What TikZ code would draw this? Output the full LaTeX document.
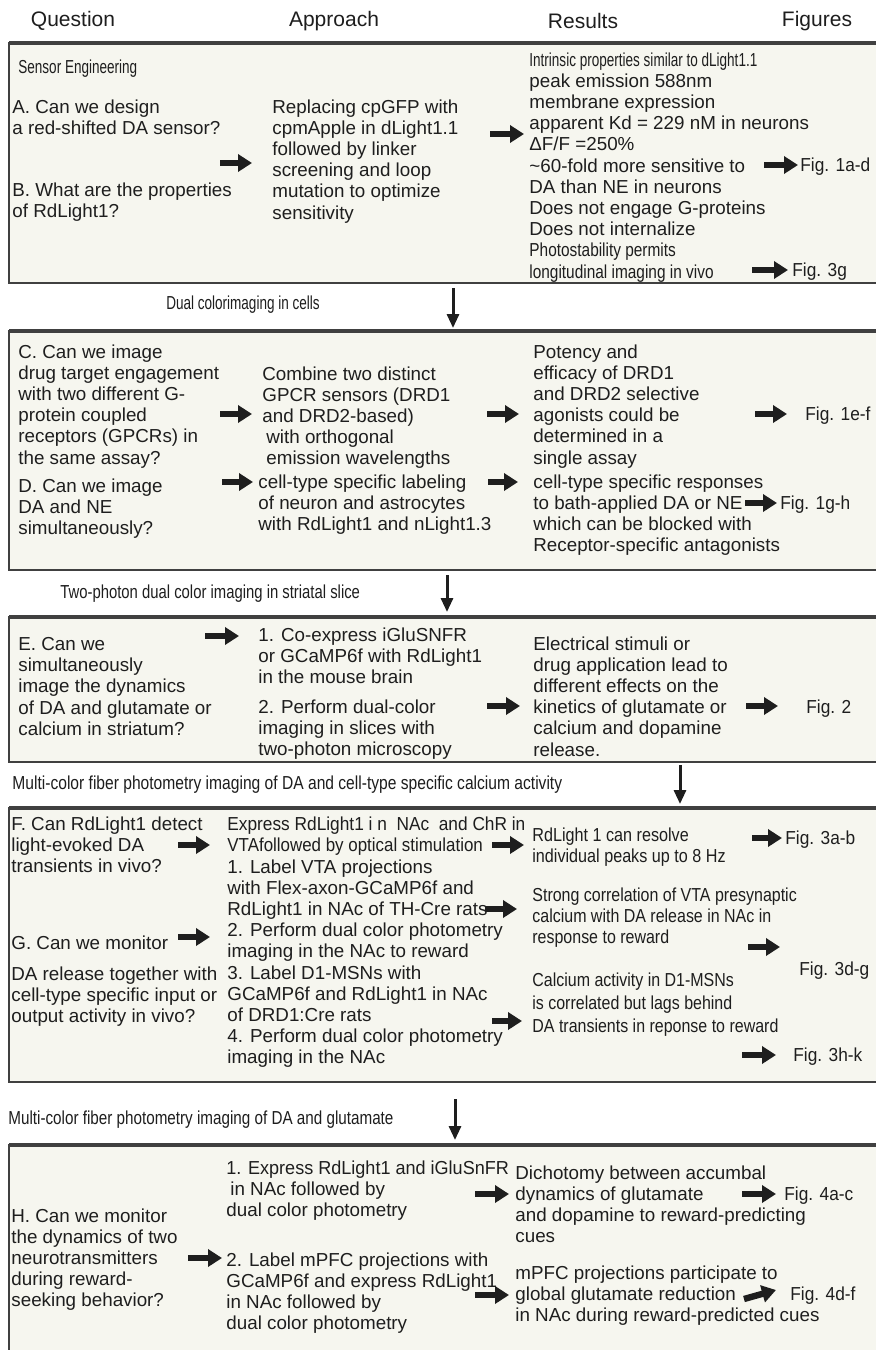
\documentclass[tikz,border=0pt]{standalone}
\usepackage{fontspec}
\setmainfont{Liberation Sans}
\usetikzlibrary{arrows.meta}

\definecolor{panelfill}{HTML}{F6F6EF}
\definecolor{inkgray}{HTML}{1E1E1E}
\newcommand{\narrowtxt}[2][0.75]{\scalebox{#1}[1]{#2}}
\newcommand{\figref}[1]{\narrowtxt[0.92]{Fig. #1}}

\begin{document}
\begin{tikzpicture}[x=0.5pt,y=-0.5pt,
  txt/.style={anchor=north west,align=left,inner sep=0pt,text=inkgray,
    font=\fontsize{9.4}{10.6}\selectfont,execute at begin node={\rule{0pt}{7pt}}},
  head/.style={inner sep=0pt,text=inkgray,font=\fontsize{10.5}{12}\selectfont},
  panel/.style={draw=black!75,line width=0.9pt,fill=panelfill},
  rarr/.style={draw=inkgray,line width=3.2pt,-{Triangle[length=7pt,width=8.5pt]}},
  darr/.style={draw=inkgray,line width=1.5pt,-{Triangle[length=7pt,width=6pt]}}]

  % page, pixel grid 876 x 1350
  \fill[white] (0,0) rectangle (876,1350);
  \path[use as bounding box] (0,0) rectangle (876,1350);
  \clip (0,0) rectangle (876,1350);

  % column heads
  \node[head] (hq) at (73,21) {Question};
  \node[head] (ha) at (334,21) {Approach};
  \node[head] (hr) at (583,21) {Results};
  \node[head] (hf) at (817,21) {Figures};

  % panels
  \draw[panel] (9,43) rectangle (890,283);
  \draw[panel] (9,331) rectangle (890,570);
  \draw[panel] (9,617) rectangle (890,762);
  \draw[panel] (9,808) rectangle (890,1082);
  \draw[panel] (9,1145) rectangle (890,1370);
  \foreach \yy in {43,331,617,808,1145}
    \draw[black!75,line width=1.6pt] (9,\yy) -- (890,\yy);

  %------------------------------------------------ sensor engineering
  \node[txt] (sensor) at (18,59) {\narrowtxt[0.72]{Sensor Engineering}};
  \node[txt] (qA) at (12,99) {A. Can we design\\a red-shifted DA sensor?};
  \node[txt] (qB) at (12,182) {B. What are the properties\\of RdLight1?};
  \node[txt] (apA) at (272,99) {Replacing cpGFP with\\cpmApple in dLight1.1\\followed by linker\\screening and loop\\mutation to optimize\\sensitivity};
  \node[txt] (resA) at (529,52) {\narrowtxt[0.72]{Intrinsic properties similar to dLight1.1}\\peak emission 588nm\\membrane expression\\apparent Kd = 229 nM in neurons\\ΔF/F =250\%\\\textasciitilde 60-fold more sensitive to\\DA than NE in neurons\\Does not engage G-proteins\\Does not internalize\\\narrowtxt[0.82]{Photostability permits}\\\narrowtxt[0.82]{longitudinal imaging in vivo}};
  \node[txt] (f1ad) at (800,157) {\figref{1a-d}};
  \node[txt] (f3g) at (792,262) {\figref{3g}};

  \coordinate (sA1) at (220,163);
  \coordinate (sA2) at (490,134);
  \coordinate (sA3) at (764,165);
  \coordinate (sA4) at (752,270);
  \draw[rarr] (sA1) -- ++(32,0);
  \draw[rarr] (sA2) -- ++(34,0);
  \draw[rarr] (sA3) -- ++(34,0);
  \draw[rarr] (sA4) -- ++(36,0);

  % step down
  \node[head,font=\fontsize{9.4}{10.6}\selectfont] (lbl2) at (243,305) {\narrowtxt[0.72]{Dual colorimaging in cells}};
  \coordinate (d1) at (453,288);
  \draw[darr] (d1) -- ++(0,40);

  %------------------------------------------------ dual colour in cells
  \node[txt] (qC) at (18,344) {C. Can we image\\drug target engagement\\with two different G-\\protein coupled\\receptors (GPCRs) in\\the same assay?};
  \node[txt] (apC) at (262,366) {Combine two distinct\\GPCR sensors (DRD1\\and DRD2-based)\\\hspace{2pt}with orthogonal\\\hspace{2pt}emission wavelengths};
  \node[txt] (resC) at (533,344) {Potency and\\efficacy of DRD1\\and DRD2 selective\\agonists could be\\determined in a\\single assay};
  \node[txt] (f1ef) at (805,406) {\figref{1e-f}};
  \node[txt] (qD) at (18,478) {D. Can we image\\DA and NE\\simultaneously?};
  \node[txt] (apD) at (258,474) {cell-type specific labeling\\of neuron and astrocytes\\with RdLight1 and nLight1.3};
  \node[txt] (resD) at (533,474) {cell-type specific responses\\to bath-applied DA or NE\\which can be blocked with\\Receptor-specific antagonists};
  \node[txt] (f1gh) at (780,495) {\figref{1g-h}};

  \coordinate (sC1) at (220,414);
  \coordinate (sC2) at (487,414);
  \coordinate (sC3) at (755,414);
  \coordinate (sD1) at (222,482);
  \coordinate (sD2) at (488,482);
  \coordinate (sD3) at (745,503);
  \draw[rarr] (sC1) -- ++(32,0);
  \draw[rarr] (sC2) -- ++(32,0);
  \draw[rarr] (sC3) -- ++(32,0);
  \draw[rarr] (sD1) -- ++(31,0);
  \draw[rarr] (sD2) -- ++(30,0);
  \draw[rarr] (sD3) -- ++(32,0);

  % step down
  \node[txt] (lbl3) at (60,584) {\narrowtxt[0.79]{Two-photon dual color imaging in striatal slice}};
  \coordinate (d2) at (447,575);
  \draw[darr] (d2) -- ++(0,37);

  %------------------------------------------------ two-photon slice
  \node[txt] (qE) at (18,637) {E. Can we\\simultaneously\\image the dynamics\\of DA and glutamate or\\calcium in striatum?};
  \node[txt] (apE1) at (258,627) {1. Co-express iGluSNFR\\or GCaMP6f with RdLight1\\in the mouse brain};
  \node[txt] (apE2) at (258,699) {2. Perform dual-color\\imaging in slices with\\two-photon microscopy};
  \node[txt] (resE) at (533,636) {Electrical stimuli or\\drug application lead to\\different effects on the\\kinetics of glutamate or\\calcium and dopamine\\release.};
  \node[txt] (f2) at (806,699) {\figref{2}};

  \coordinate (sE1) at (205,636);
  \coordinate (sE2) at (487,706);
  \coordinate (sE3) at (746,706);
  \draw[rarr] (sE1) -- ++(34,0);
  \draw[rarr] (sE2) -- ++(33,0);
  \draw[rarr] (sE3) -- ++(32,0);

  % step down
  \node[txt] (lbl4) at (12,775) {\narrowtxt[0.83]{Multi-color fiber photometry imaging of DA and cell-type specific calcium activity}};
  \coordinate (d3) at (680,765);
  \draw[darr] (d3) -- ++(0,39);

  %------------------------------------------------ photometry, calcium
  \node[txt] (qF) at (11,816) {F. Can RdLight1 detect\\light-evoked DA\\transients in vivo?};
  \node[txt] (apF) at (227,816) {\narrowtxt[0.92]{Express RdLight1 i n\ \ NAc\ \ and ChR in}\\\narrowtxt[0.9]{VTAfollowed by optical stimulation}};
  \node[txt] (resF) at (532,827) {\narrowtxt[0.86]{RdLight 1 can resolve}\\\narrowtxt[0.86]{individual peaks up to 8 Hz}};
  \node[txt] (f3ab) at (785,830) {\figref{3a-b}};
  \node[txt] (apG) at (227,859) {1. Label VTA projections\\with Flex-axon-GCaMP6f and\\RdLight1 in NAc of TH-Cre rats\\2. Perform dual color photometry\\imaging in the NAc to reward\\3. Label D1-MSNs with\\GCaMP6f and RdLight1 in NAc\\of DRD1:Cre rats\\4. Perform dual color photometry\\imaging in the NAc};
  \node[txt] (qG) at (11,935) {G. Can we monitor\\[5pt]DA release together with\\cell-type specific input or\\output activity in vivo?};
  \node[txt] (resG1) at (532,887) {\narrowtxt[0.85]{Strong correlation of VTA presynaptic}\\\narrowtxt[0.85]{calcium with DA release in NAc in}\\\narrowtxt[0.85]{response to reward}};
  \node[txt] (f3dg) at (799,961) {\figref{3d-g}};
  \node[txt] (resG2) at (532,972) {\narrowtxt[0.85]{Calcium activity in D1-MSNs}\\[1pt]\narrowtxt[0.85]{is correlated but lags behind}\\[1pt]\narrowtxt[0.85]{DA transients in reponse to reward}};
  \node[txt] (f3hk) at (793,1047) {\figref{3h-k}};

  \coordinate (sF1) at (178,845);
  \coordinate (sF2) at (492,845);
  \coordinate (sF3) at (752,838);
  \coordinate (sG1) at (178,937);
  \coordinate (sG2) at (485,909);
  \coordinate (sG3) at (748,947);
  \coordinate (sG4) at (492,1021);
  \coordinate (sG5) at (742,1055);
  \draw[rarr] (sF1) -- ++(32,0);
  \draw[rarr] (sF2) -- ++(32,0);
  \draw[rarr] (sF3) -- ++(30,0);
  \draw[rarr] (sG1) -- ++(32,0);
  \draw[rarr] (sG2) -- ++(32,0);
  \draw[rarr] (sG3) -- ++(32,0);
  \draw[rarr] (sG4) -- ++(30,0);
  \draw[rarr] (sG5) -- ++(34,0);

  % step down
  \node[txt] (lbl5) at (8,1110) {\narrowtxt[0.81]{Multi-color fiber photometry imaging of DA and glutamate}};
  \coordinate (d4) at (455,1099);
  \draw[darr] (d4) -- ++(0,41);

  %------------------------------------------------ photometry, glutamate
  \node[txt] (apH1) at (226,1160) {\narrowtxt[0.96]{1. Express RdLight1 and iGluSnFR}\\\hspace{2pt}in NAc followed by\\dual color photometry};
  \node[txt] (resH1) at (515,1165) {Dichotomy between accumbal\\dynamics of glutamate\\and dopamine to reward-predicting\\cues};
  \node[txt] (f4ac) at (784,1186) {\figref{4a-c}};
  \node[txt] (qH) at (11,1208) {H. Can we monitor\\the dynamics of two\\neurotransmitters\\during reward-\\seeking behavior?};
  \node[txt] (apH2) at (226,1252) {2. Label mPFC projections with\\GCaMP6f and express RdLight1\\in NAc followed by\\dual color photometry};
  \node[txt] (resH2) at (515,1265) {mPFC projections participate to\\global glutamate reduction\\in NAc during reward-predicted cues};
  \node[txt] (f4df) at (790,1286) {\figref{4d-f}};

  \coordinate (sH1) at (475,1194);
  \coordinate (sH2) at (742,1194);
  \coordinate (sH3) at (188,1258);
  \coordinate (sH4) at (475,1295);
  \coordinate (sH5) at (744,1299);
  \draw[rarr] (sH1) -- ++(34,0);
  \draw[rarr] (sH2) -- ++(34,0);
  \draw[rarr] (sH3) -- ++(34,0);
  \draw[rarr] (sH4) -- ++(34,0);
  \draw[rarr] (sH5) -- ++(32,-9);
\end{tikzpicture}
\end{document}
